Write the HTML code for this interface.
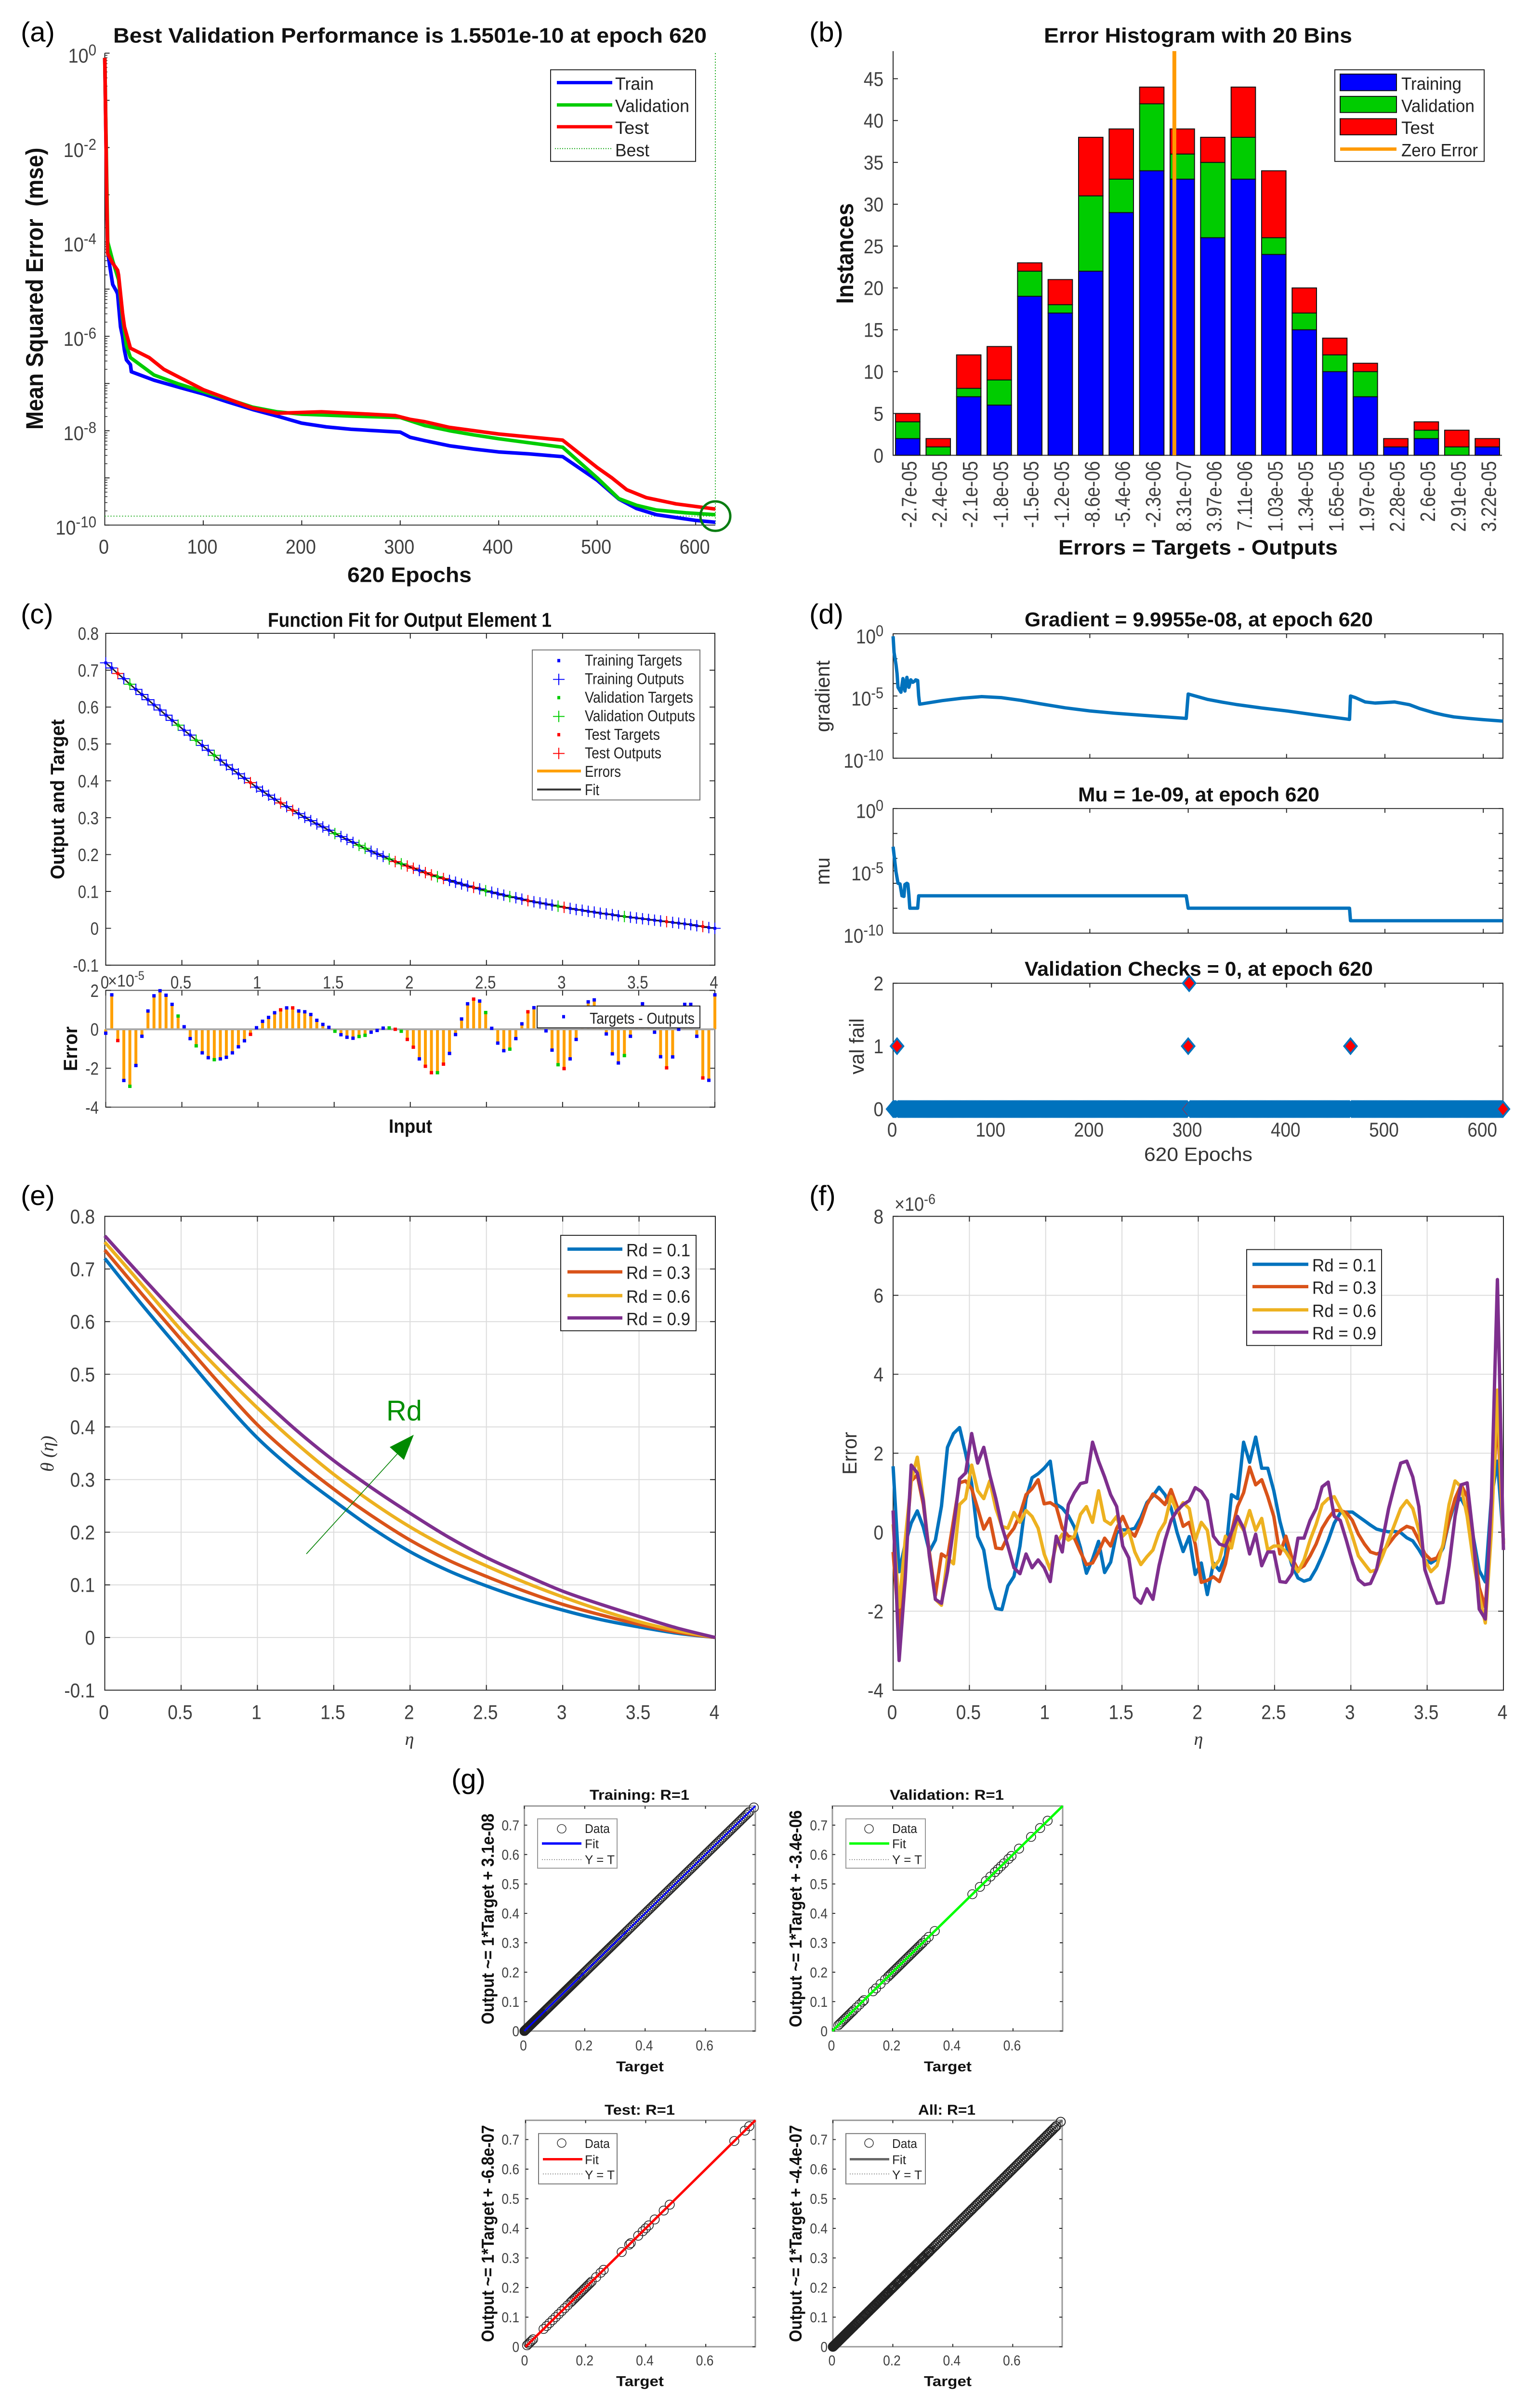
<!DOCTYPE html>
<html lang="en">
<head>
<meta charset="utf-8">
<title>Neural network training figures (a)-(g)</title>
<style>
html,body{margin:0;padding:0;background:#fff;width:3172px;height:5072px;overflow:hidden;}
svg{display:block;position:absolute;left:0;top:0;overflow:hidden;}
text{font-family:"Liberation Sans",sans-serif;}
.b{font-weight:bold;fill:#111;}
.lg{fill:#222;}
.ser{font-family:"Liberation Serif",serif;font-style:italic;fill:#333;}
</style>
</head>
<body>
<svg id="chart" xmlns="http://www.w3.org/2000/svg" width="3172" height="5072" viewBox="0 0 3172 5072">
<rect x="0" y="0" width="3172" height="5072" fill="#fff"/>
<g id="marks"></g>
<g id="static">
  <text x="43" y="87" font-size="58" fill="#000">(a)</text>
  <text x="1680" y="87" font-size="58" fill="#000">(b)</text>
  <text x="43" y="1313" font-size="58" fill="#000">(c)</text>
  <text x="1680" y="1313" font-size="58" fill="#000">(d)</text>
  <text x="43" y="2538" font-size="58" fill="#000">(e)</text>
  <text x="1680" y="2538" font-size="58" fill="#000">(f)</text>
  <text x="937" y="3767" font-size="58" fill="#000">(g)</text>

  <!-- (a) -->
  <text class="b" x="235" y="90" font-size="44" textLength="1232" lengthAdjust="spacingAndGlyphs">Best Validation Performance is 1.5501e-10 at epoch 620</text>
  <text class="b" transform="translate(89 905) rotate(-90)" font-size="50" textLength="594" lengthAdjust="spacingAndGlyphs" xml:space="preserve">Mean Squared Error  (mse)</text>
  <text class="b" x="721" y="1226" font-size="44" textLength="258" lengthAdjust="spacingAndGlyphs">620 Epochs</text>
  <g>
    <rect x="1143" y="147" width="301" height="193" fill="#fff" stroke="#262626" stroke-width="2"/>
    <line x1="1156" x2="1271" y1="174" y2="174" stroke="#0000ff" stroke-width="7"/>
    <line x1="1156" x2="1271" y1="221" y2="221" stroke="#00cc00" stroke-width="7"/>
    <line x1="1156" x2="1271" y1="267" y2="267" stroke="#ff0000" stroke-width="7"/>
    <line x1="1152" x2="1271" y1="313" y2="313" stroke="#00a000" stroke-width="2" stroke-dasharray="2 3"/>
    <text class="lg" x="1277" y="189" font-size="38" textLength="80" lengthAdjust="spacingAndGlyphs">Train</text>
    <text class="lg" x="1277" y="236" font-size="38" textLength="154" lengthAdjust="spacingAndGlyphs">Validation</text>
    <text class="lg" x="1277" y="282" font-size="38" textLength="70" lengthAdjust="spacingAndGlyphs">Test</text>
    <text class="lg" x="1277" y="329" font-size="38" textLength="71" lengthAdjust="spacingAndGlyphs">Best</text>
  </g>

  <!-- (b) -->
  <text class="b" x="2167" y="90" font-size="44" textLength="640" lengthAdjust="spacingAndGlyphs">Error Histogram with 20 Bins</text>
  <text class="b" transform="translate(1771 640) rotate(-90)" font-size="50" textLength="212" lengthAdjust="spacingAndGlyphs">Instances</text>
  <text class="b" x="2197" y="1168" font-size="44" textLength="580" lengthAdjust="spacingAndGlyphs">Errors = Targets - Outputs</text>
  <g>
    <rect x="2771" y="147" width="310" height="193" fill="#fff" stroke="#262626" stroke-width="2"/>
    <rect x="2782" y="156" width="117" height="35" fill="#0000ff" stroke="#111" stroke-width="2"/>
    <rect x="2782" y="203" width="117" height="34" fill="#00cc00" stroke="#111" stroke-width="2"/>
    <rect x="2782" y="250" width="117" height="34" fill="#ff0000" stroke="#111" stroke-width="2"/>
    <line x1="2782" x2="2899" y1="314" y2="314" stroke="#ff9a00" stroke-width="7"/>
    <text class="lg" x="2909" y="189" font-size="38" textLength="125" lengthAdjust="spacingAndGlyphs">Training</text>
    <text class="lg" x="2909" y="236" font-size="38" textLength="152" lengthAdjust="spacingAndGlyphs">Validation</text>
    <text class="lg" x="2909" y="282" font-size="38" textLength="68" lengthAdjust="spacingAndGlyphs">Test</text>
    <text class="lg" x="2909" y="329" font-size="38" textLength="159" lengthAdjust="spacingAndGlyphs">Zero Error</text>
  </g>

  <!-- (c) -->
  <text class="b" x="556" y="1320" font-size="42" textLength="589" lengthAdjust="spacingAndGlyphs">Function Fit for Output Element 1</text>
  <text class="b" transform="translate(133 1852) rotate(-90)" font-size="40" textLength="337" lengthAdjust="spacingAndGlyphs">Output and Target</text>
  <text class="b" transform="translate(160 2256) rotate(-90)" font-size="40" textLength="94" lengthAdjust="spacingAndGlyphs">Error</text>
  <text class="b" x="807" y="2386" font-size="40" textLength="90" lengthAdjust="spacingAndGlyphs">Input</text>
  <text x="224" y="2078" font-size="36" fill="#404040" transform="translate(224 0) scale(.9 1) translate(-224 0)">×10<tspan dy="-14" font-size="26">-5</tspan></text>
  <g>
    <rect x="1105" y="1369" width="348" height="316" fill="#fff" stroke="#777" stroke-width="2"/>
    <rect x="1157" y="1388" width="6" height="7" fill="#0000ff"/>
    <path d="M1148 1431H1172M1160 1419V1443" stroke="#0000ff" stroke-width="2" fill="none"/>
    <rect x="1157" y="1466" width="6" height="7" fill="#00cc00"/>
    <path d="M1148 1509H1172M1160 1497V1521" stroke="#00cc00" stroke-width="2" fill="none"/>
    <rect x="1157" y="1544" width="6" height="7" fill="#ff0000"/>
    <path d="M1148 1587H1172M1160 1575V1599" stroke="#ff0000" stroke-width="2" fill="none"/>
    <line x1="1115" x2="1206" y1="1624" y2="1624" stroke="#ffa000" stroke-width="6"/>
    <line x1="1115" x2="1206" y1="1663" y2="1663" stroke="#333" stroke-width="4"/>
    <text class="lg" x="1214" y="1402" font-size="33" textLength="202" lengthAdjust="spacingAndGlyphs">Training Targets</text>
    <text class="lg" x="1214" y="1441" font-size="33" textLength="206" lengthAdjust="spacingAndGlyphs">Training Outputs</text>
    <text class="lg" x="1214" y="1480" font-size="33" textLength="225" lengthAdjust="spacingAndGlyphs">Validation Targets</text>
    <text class="lg" x="1214" y="1519" font-size="33" textLength="229" lengthAdjust="spacingAndGlyphs">Validation Outputs</text>
    <text class="lg" x="1214" y="1558" font-size="33" textLength="156" lengthAdjust="spacingAndGlyphs">Test Targets</text>
    <text class="lg" x="1214" y="1597" font-size="33" textLength="159" lengthAdjust="spacingAndGlyphs">Test Outputs</text>
    <text class="lg" x="1214" y="1636" font-size="33" textLength="75" lengthAdjust="spacingAndGlyphs">Errors</text>
    <text class="lg" x="1214" y="1675" font-size="33" textLength="30" lengthAdjust="spacingAndGlyphs">Fit</text>
  </g>
  <g>
    <rect x="1115" y="2119" width="338" height="46" fill="#fff" stroke="#222" stroke-width="2"/>
    <rect x="1167" y="2138" width="6" height="7" fill="#0000ff"/>
    <text class="lg" x="1224" y="2156" font-size="33" textLength="218" lengthAdjust="spacingAndGlyphs">Targets - Outputs</text>
  </g>

  <!-- (d) -->
  <text class="b" x="2127" y="1319" font-size="42" textLength="723" lengthAdjust="spacingAndGlyphs">Gradient = 9.9955e-08, at epoch 620</text>
  <text class="b" x="2238" y="1688" font-size="42" textLength="501" lengthAdjust="spacingAndGlyphs">Mu = 1e-09, at epoch 620</text>
  <text class="b" x="2127" y="2055" font-size="42" textLength="723" lengthAdjust="spacingAndGlyphs">Validation Checks = 0, at epoch 620</text>
  <text transform="translate(1722 1542) rotate(-90)" font-size="42" fill="#333" textLength="151" lengthAdjust="spacingAndGlyphs">gradient</text>
  <text transform="translate(1722 1864) rotate(-90)" font-size="42" fill="#333" textLength="58" lengthAdjust="spacingAndGlyphs">mu</text>
  <text transform="translate(1793 2263) rotate(-90)" font-size="42" fill="#333" textLength="118" lengthAdjust="spacingAndGlyphs">val fail</text>
  <text x="2375" y="2445" font-size="40" fill="#333" textLength="225" lengthAdjust="spacingAndGlyphs">620 Epochs</text>

  <!-- (e) -->
  <text class="ser" x="850" y="3675" font-size="38" text-anchor="middle">η</text>
  <text class="ser" transform="translate(111 3100) rotate(-90)" font-size="38" textLength="76" lengthAdjust="spacingAndGlyphs" xml:space="preserve">θ (η)</text>
  <text x="802" y="2992" font-size="60" fill="#008f00" textLength="74" lengthAdjust="spacingAndGlyphs">Rd</text>
  <line x1="636" y1="3273" x2="825" y2="3062" stroke="#008000" stroke-width="1.6"/>
  <polygon points="859,3022 809,3048 838.5,3075" fill="#008a00"/>
  <g>
    <rect x="1164" y="2602" width="281" height="201" fill="#fff" stroke="#262626" stroke-width="2"/>
    <line x1="1178" x2="1292" y1="2631" y2="2631" stroke="#0072bd" stroke-width="7"/>
    <line x1="1178" x2="1292" y1="2679" y2="2679" stroke="#d95319" stroke-width="7"/>
    <line x1="1178" x2="1292" y1="2729" y2="2729" stroke="#edb120" stroke-width="7"/>
    <line x1="1178" x2="1292" y1="2776" y2="2776" stroke="#7e2f8e" stroke-width="7"/>
    <text class="lg" x="1300" y="2646" font-size="38" textLength="133" lengthAdjust="spacingAndGlyphs">Rd = 0.1</text>
    <text class="lg" x="1300" y="2694" font-size="38" textLength="133" lengthAdjust="spacingAndGlyphs">Rd = 0.3</text>
    <text class="lg" x="1300" y="2744" font-size="38" textLength="133" lengthAdjust="spacingAndGlyphs">Rd = 0.6</text>
    <text class="lg" x="1300" y="2791" font-size="38" textLength="133" lengthAdjust="spacingAndGlyphs">Rd = 0.9</text>
  </g>

  <!-- (f) -->
  <text class="ser" x="2488" y="3675" font-size="38" text-anchor="middle">η</text>
  <text transform="translate(1778 3106) rotate(-90)" font-size="42" fill="#333" textLength="90" lengthAdjust="spacingAndGlyphs">Error</text>
  <text x="1857" y="2550" font-size="40" fill="#404040" transform="translate(1857 0) scale(.9 1) translate(-1857 0)">×10<tspan dy="-14" font-size="30">-6</tspan></text>
  <g>
    <rect x="2588" y="2632" width="280" height="202" fill="#fff" stroke="#262626" stroke-width="2"/>
    <line x1="2600" x2="2716" y1="2663" y2="2663" stroke="#0072bd" stroke-width="7"/>
    <line x1="2600" x2="2716" y1="2710" y2="2710" stroke="#d95319" stroke-width="7"/>
    <line x1="2600" x2="2716" y1="2759" y2="2759" stroke="#edb120" stroke-width="7"/>
    <line x1="2600" x2="2716" y1="2806" y2="2806" stroke="#7e2f8e" stroke-width="7"/>
    <text class="lg" x="2724" y="2678" font-size="38" textLength="133" lengthAdjust="spacingAndGlyphs">Rd = 0.1</text>
    <text class="lg" x="2724" y="2725" font-size="38" textLength="133" lengthAdjust="spacingAndGlyphs">Rd = 0.3</text>
    <text class="lg" x="2724" y="2774" font-size="38" textLength="133" lengthAdjust="spacingAndGlyphs">Rd = 0.6</text>
    <text class="lg" x="2724" y="2821" font-size="38" textLength="133" lengthAdjust="spacingAndGlyphs">Rd = 0.9</text>
  </g>

  <!-- (g) -->
  <text class="b" x="1224" y="3791" font-size="30" textLength="207" lengthAdjust="spacingAndGlyphs">Training: R=1</text>
  <text class="b" x="1847" y="3791" font-size="30" textLength="237" lengthAdjust="spacingAndGlyphs">Validation: R=1</text>
  <text class="b" x="1255" y="4454" font-size="30" textLength="146" lengthAdjust="spacingAndGlyphs">Test: R=1</text>
  <text class="b" x="1906" y="4454" font-size="30" textLength="119" lengthAdjust="spacingAndGlyphs">All: R=1</text>
  <text class="b" transform="translate(1025 4264) rotate(-90)" font-size="36" textLength="444" lengthAdjust="spacingAndGlyphs">Output ~= 1*Target + 3.1e-08</text>
  <text class="b" transform="translate(1664 4270) rotate(-90)" font-size="36" textLength="457" lengthAdjust="spacingAndGlyphs">Output ~= 1*Target + -3.4e-06</text>
  <text class="b" transform="translate(1025 4933) rotate(-90)" font-size="36" textLength="457" lengthAdjust="spacingAndGlyphs">Output ~= 1*Target + -6.8e-07</text>
  <text class="b" transform="translate(1664 4933) rotate(-90)" font-size="36" textLength="457" lengthAdjust="spacingAndGlyphs">Output ~= 1*Target + -4.4e-07</text>
  <text class="b" x="1279" y="4363" font-size="30" textLength="99" lengthAdjust="spacingAndGlyphs">Target</text>
  <text class="b" x="1918" y="4363" font-size="30" textLength="99" lengthAdjust="spacingAndGlyphs">Target</text>
  <text class="b" x="1279" y="5026" font-size="30" textLength="99" lengthAdjust="spacingAndGlyphs">Target</text>
  <text class="b" x="1918" y="5026" font-size="30" textLength="99" lengthAdjust="spacingAndGlyphs">Target</text>

  <g>
    <rect x="1116" y="3831" width="165" height="104" fill="#fff" stroke="#999" stroke-width="2"/>
    <circle cx="1166" cy="3852" r="9" fill="none" stroke="#333" stroke-width="1.5"/>
    <line x1="1125" x2="1207" y1="3883" y2="3883" stroke="#0000ff" stroke-width="5"/>
    <line x1="1125" x2="1207" y1="3917" y2="3917" stroke="#777" stroke-width="1.5" stroke-dasharray="2 3"/>
    <text class="lg" x="1214" y="3861" font-size="26" textLength="52" lengthAdjust="spacingAndGlyphs">Data</text>
    <text class="lg" x="1214" y="3893" font-size="26" textLength="29" lengthAdjust="spacingAndGlyphs">Fit</text>
    <text class="lg" x="1214" y="3926" font-size="26" textLength="62" lengthAdjust="spacingAndGlyphs">Y = T</text>
  </g>
  <g>
    <rect x="1756" y="3831" width="165" height="104" fill="#fff" stroke="#999" stroke-width="2"/>
    <circle cx="1804" cy="3852" r="9" fill="none" stroke="#333" stroke-width="1.5"/>
    <line x1="1763" x2="1846" y1="3883" y2="3883" stroke="#00ff00" stroke-width="5"/>
    <line x1="1763" x2="1846" y1="3917" y2="3917" stroke="#777" stroke-width="1.5" stroke-dasharray="2 3"/>
    <text class="lg" x="1852" y="3861" font-size="26" textLength="52" lengthAdjust="spacingAndGlyphs">Data</text>
    <text class="lg" x="1852" y="3893" font-size="26" textLength="29" lengthAdjust="spacingAndGlyphs">Fit</text>
    <text class="lg" x="1852" y="3926" font-size="26" textLength="62" lengthAdjust="spacingAndGlyphs">Y = T</text>
  </g>
  <g>
    <rect x="1118" y="4494" width="163" height="106" fill="#fff" stroke="#777" stroke-width="2"/>
    <circle cx="1166" cy="4514" r="9" fill="none" stroke="#333" stroke-width="1.5"/>
    <line x1="1127" x2="1209" y1="4548" y2="4548" stroke="#ff0000" stroke-width="5"/>
    <line x1="1127" x2="1209" y1="4579" y2="4579" stroke="#777" stroke-width="1.5" stroke-dasharray="2 3"/>
    <text class="lg" x="1214" y="4524" font-size="26" textLength="52" lengthAdjust="spacingAndGlyphs">Data</text>
    <text class="lg" x="1214" y="4558" font-size="26" textLength="29" lengthAdjust="spacingAndGlyphs">Fit</text>
    <text class="lg" x="1214" y="4590" font-size="26" textLength="62" lengthAdjust="spacingAndGlyphs">Y = T</text>
  </g>
  <g>
    <rect x="1756" y="4494" width="165" height="106" fill="#fff" stroke="#777" stroke-width="2"/>
    <circle cx="1804" cy="4514" r="9" fill="none" stroke="#333" stroke-width="1.5"/>
    <line x1="1764" x2="1846" y1="4548" y2="4548" stroke="#666" stroke-width="5"/>
    <line x1="1764" x2="1846" y1="4579" y2="4579" stroke="#777" stroke-width="1.5" stroke-dasharray="2 3"/>
    <text class="lg" x="1852" y="4524" font-size="26" textLength="52" lengthAdjust="spacingAndGlyphs">Data</text>
    <text class="lg" x="1852" y="4558" font-size="26" textLength="29" lengthAdjust="spacingAndGlyphs">Fit</text>
    <text class="lg" x="1852" y="4590" font-size="26" textLength="62" lengthAdjust="spacingAndGlyphs">Y = T</text>
  </g>
</g>
</svg>
<script>
/* ---------- (a) performance: log10(mse) per epoch ---------- */
const perfTrainEpochs=[0,2,3,5,8,12,13,16,18,20,22,26,27,50,77,100,125,150,175,200,225,250,275,300,310,325,350,375,400,430,465,500,522,540,560,600,620];
const perfTrainLog=[-0.1,-3,-4.2,-4.5,-4.9,-5.05,-5.1,-5.8,-6,-6.3,-6.5,-6.6,-6.75,-6.93,-7.09,-7.22,-7.39,-7.55,-7.69,-7.84,-7.92,-7.97,-8,-8.03,-8.14,-8.21,-8.32,-8.39,-8.45,-8.49,-8.55,-9.05,-9.45,-9.65,-9.78,-9.9,-9.94];
const perfValEpochs=[0,3,8,14,18,22,26,50,75,100,125,150,175,200,250,300,325,350,375,400,465,500,522,540,560,590,620];
const perfValLog=[-0.1,-4,-4.4,-4.8,-5.6,-6.2,-6.45,-6.82,-7.01,-7.17,-7.33,-7.5,-7.6,-7.65,-7.69,-7.72,-7.89,-8,-8.09,-8.17,-8.35,-9,-9.44,-9.58,-9.68,-9.74,-9.78];
const perfTestEpochs=[0,2,3,8,13,14,18,20,26,45,60,100,150,175,220,260,295,310,325,350,400,430,465,480,500,515,530,550,580,620];
const perfTestLog=[-0.1,-3,-4.25,-4.45,-4.6,-4.7,-5.5,-5.8,-6.25,-6.45,-6.7,-7.13,-7.52,-7.63,-7.6,-7.64,-7.68,-7.76,-7.81,-7.93,-8.07,-8.13,-8.2,-8.45,-8.78,-9,-9.25,-9.42,-9.55,-9.66];
const bestEpoch=620;
const bestLog=-9.81;
const perfXTicks=[0,100,200,300,400,500,600];
const perfYExps=[0,-2,-4,-6,-8,-10];

/* ---------- (b) histogram ---------- */
const histLabels=['-2.7e-05','-2.4e-05','-2.1e-05','-1.8e-05','-1.5e-05','-1.2e-05','-8.6e-06','-5.4e-06','-2.3e-06','8.31e-07','3.97e-06','7.11e-06','1.03e-05','1.34e-05','1.65e-05','1.97e-05','2.28e-05','2.6e-05','2.91e-05','3.22e-05'];
const histTraining=[2,0,7,6,19,17,22,29,34,33,26,33,24,15,10,7,1,2,0,1];
const histValidation=[2,1,1,3,3,1,9,4,8,3,9,5,2,2,2,3,0,1,1,0];
const histTest=[1,1,4,4,1,3,7,6,2,3,3,6,8,3,2,1,1,1,2,1];
const histYTicks=[0,5,10,15,20,25,30,35,40,45];
const histZeroBin=8.74;

/* ---------- (c) function fit ---------- */
const fitTargets=[.720,.706,.691,.677,.662,.648,.634,.620,.606,.592,.578,.564,.551,.537,.524,.510,.496,.483,.469,.456,.443,.431,.419,.407,.395,.383,.372,.361,.350,.340,.330,.320,.311,.301,.292,.283,.275,.266,.257,.249,.241,.233,.225,.217,.209,.202,.195,.188,.181,.175,.169,.163,.157,.151,.145,.140,.135,.130,.125,.120,.115,.111,.107,.102,.098,.094,.090,.086,.083,.079,.075,.072,.069,.066,.063,.060,.057,.054,.051,.049,.046,.044,.041,.039,.037,.034,.032,.030,.028,.026,.024,.022,.020,.018,.016,.014,.012,.010,.007,.005,.002,.000];
const fitErrors=[-.2,1.77,-.58,-2.63,-2.93,-1.86,-.36,.94,1.72,1.98,1.75,1.28,.68,.13,-.48,-.85,-1.21,-1.46,-1.56,-1.52,-1.44,-1.21,-.9,-.59,-.26,.08,.41,.61,.85,1,1.1,1.1,.94,.9,.76,.46,.25,.1,-.1,-.28,-.41,-.46,-.37,-.31,-.15,-.06,.06,.07,0,-.1,-.52,-.92,-1.52,-1.9,-2.23,-2.23,-1.79,-1.24,-.27,.53,1.31,1.55,1.45,.86,.05,-.71,-1.1,-1.02,-.48,.28,.9,1.11,.2,-.08,-1.07,-1.82,-2.02,-1.52,-.52,.4,1.41,1.51,.6,-.24,-1.26,-1.73,-1.35,-.36,.5,1.31,.3,-.15,-1.41,-1.98,-1.42,0,1.28,1.28,-.36,-2.5,-2.62,1.77];
const fitClasses='bbrbgbbbbbbbgbbgbbgbbbbbrbbbbrbrbbbbbbgbbbggbbbgrgrrbrrgrbbbbrbgbbbgbbrbbbbgrbbbbbbbbbgbbbbbbrbbbbbrbb';
const fitXTicks=[0,.5,1,1.5,2,2.5,3,3.5,4];
const fitXLabels=['0','0.5','1','1.5','2','2.5','3','3.5','4'];
const fitYTicks=[-.1,0,.1,.2,.3,.4,.5,.6,.7,.8];
const fitYLabels=['-0.1','0','0.1','0.2','0.3','0.4','0.5','0.6','0.7','0.8'];
const errYTicks=[-4,-2,0,2];
const errYLabels=['-4','-2','0','2'];

/* ---------- (d) training state ---------- */
const gradEpochs=[0,1,3,4,5,8,10,12,14,16,18,20,22,23,25,26,27,50,70,90,110,130,150,175,200,225,250,275,298,300,320,335,350,375,400,430,464,465,470,480,490,510,525,535,550,560,570,585,600,620];
const gradLog=[-.2,-1.5,-2.5,-3.2,-4.3,-4.7,-3.6,-4.6,-3.5,-4.3,-3.7,-3.9,-3.8,-3.7,-3.75,-5,-5.66,-5.37,-5.18,-5.05,-5.13,-5.35,-5.63,-5.95,-6.2,-6.38,-6.53,-6.67,-6.8,-4.84,-5.28,-5.5,-5.7,-5.97,-6.2,-6.53,-6.88,-5,-5.13,-5.48,-5.57,-5.48,-5.7,-6,-6.35,-6.53,-6.68,-6.8,-6.9,-7.02];
const muEpochs=[0,3,5,7,9,11,12,14,15,16,17,25,26,298,300,464,465,620];
const muLog=[-3.06,-5.1,-6,-6.05,-7,-7.05,-6.1,-6,-6.05,-6.9,-8,-8,-7,-7,-8,-8,-9,-9];
const failEpochs=[4,300,301,465];
const failCounts=[1,1,2,1];
const lastEpoch=620;
const trainXTicks=[0,100,200,300,400,500,600];
const logYExps=[0,-5,-10];
const logYMinor=[-2,-4,-6,-8];
const failYTicks=[0,1,2];

/* ---------- (e) temperature profiles, sampled at eta step 0.25 ---------- */
const thetaRd01=[.72,.63,.544,.458,.379,.315,.26,.208,.163,.127,.098,.073,.052,.034,.02,.008,0];
const thetaRd03=[.736,.65,.566,.483,.404,.339,.282,.231,.185,.147,.116,.088,.063,.043,.025,.01,0];
const thetaRd06=[.751,.668,.584,.508,.436,.37,.31,.257,.21,.17,.136,.105,.077,.052,.03,.013,0];
const thetaRd09=[.763,.683,.605,.531,.461,.395,.336,.284,.236,.191,.152,.119,.088,.063,.04,.018,0];
const etaTicks=[0,.5,1,1.5,2,2.5,3,3.5,4];
const etaLabels=['0','0.5','1','1.5','2','2.5','3','3.5','4'];
const thetaYTicks=[-.1,0,.1,.2,.3,.4,.5,.6,.7,.8];
const thetaYLabels=['-0.1','0','0.1','0.2','0.3','0.4','0.5','0.6','0.7','0.8'];

/* ---------- (f) errors (units of 1e-6), 102 samples over eta 0..4 ---------- */
const errRd01=[1.67,-1,-.3,.23,.54,.13,-.49,-.2,.66,2.15,2.5,2.65,2,1.23,-.11,-.45,-1.4,-1.93,-1.96,-1.36,-1.12,-.35,.85,1.38,1.48,1.62,1.8,.71,.61,.42,.13,-.39,-1.04,-.68,-.23,-1.02,-.76,-.01,.06,.06,.1,.37,.75,.92,1.14,.95,.61,-.01,-.49,-.11,-1.07,-.78,-1.58,-.78,-.97,-.59,.95,.85,2.28,1.77,2.41,1.62,1.62,1.05,.28,-.3,-.83,-1.16,-1.24,-1.19,-.93,-.59,-.21,.23,.49,.51,.51,.4,.29,.18,.08,.04,.01,.02,-.01,-.14,-.22,-.44,-.7,-.78,-.68,-.4,.27,.75,.85,.56,-.11,-.97,-1.26,.85,1.8,-.2];
const errRd03=[-.5,-2.5,-.5,1.3,1.45,.7,-.5,-1.6,-.55,-.65,.3,1.25,1.3,1.1,.6,.08,.35,-.4,-.42,-.1,.1,.45,.95,1.1,1.33,.72,.75,.65,.1,-.1,-.15,-.5,-.82,-.78,-.5,-.15,-.35,.1,.4,.05,-.1,.25,.7,.97,.85,.7,1.08,.65,.15,.25,-.3,-1.27,-1.22,-1.13,-1.25,-.8,0,.65,1,1.65,1.2,1.33,.9,.4,-.55,-.1,-.65,-.95,-.85,-.6,-.3,.1,.35,.55,.55,.5,.3,-.05,-.3,-.5,-.55,-.5,-.3,-.1,.05,.15,.1,-.2,-.55,-.7,-.65,-.35,.3,.85,1.2,.9,-.2,-1.4,-1.9,.3,3,-.3];
const errRd06=[.2,-1.9,-.2,1.3,1.9,.85,-.6,-1.7,-1.85,-.65,-.8,.7,.85,1.7,1.05,.85,1.3,.6,.15,.1,.5,.25,.55,.4,.1,-.55,-.95,-.3,-.05,-.2,-.1,.45,.65,.25,1.05,.3,.2,.4,-.1,.05,-.5,-.82,-.62,-.45,0,.25,.9,.5,.75,.6,-.2,.25,.05,-.9,-.7,-.1,-.4,.3,.05,.55,.05,.35,-.45,-.35,-.35,-.5,-.75,-1,-.7,-.2,.2,.7,.85,.9,.6,.35,-.1,-.6,-.8,-1,-.95,-.6,-.2,.2,.6,.8,.6,.05,-.7,-1,-.85,-.3,.7,1.3,1.15,.4,-.7,-1.6,-2.3,0,3.6,-.3];
const errRd09=[.55,-3.25,-1.2,1.7,1.5,.8,-.6,-1.7,-1.8,-1,.1,1.35,1.5,2.5,1.75,2.15,1.45,.85,.15,-.35,-.9,-1.05,-.55,-.9,-.7,-.9,-1.25,-.1,-.5,.7,1,1.23,1.27,2.28,1.8,1.4,.95,.65,-.35,-.65,-1.65,-1.8,-1.43,-1.7,-.85,-.2,.3,.55,.7,.8,1.13,1.03,.8,-.1,-.3,-.35,0,.4,.1,-.55,-.05,-.85,-.5,-.5,-1.25,-1.27,-1.05,-.15,-.15,.3,.6,1.15,1.27,.4,.3,-.2,-.75,-1.2,-1.33,-1.3,-.95,-.2,.6,1.2,1.75,1.8,1.4,.65,-.95,-1.4,-1.8,-1.78,-.85,.4,1.2,1.25,-.1,-1.95,-2.2,.8,6.4,-.45];
const errFYTicks=[-4,-2,0,2,4,6,8];
const errFYLabels=['-4','-2','0','2','4','6','8'];

/* ---------- (g) regression targets ---------- */
const regTrain=[0,.001,.002,.003,.004,.005,.006,.007,.008,.009,.01,.012,.014,.016,.018,.02,.022,.024,.026,.028,.03,.032,.034,.036,.038,.04,.042,.044,.046,.048,.05,.052,.054,.056,.058,.06,.063,.066,.069,.072,.075,.078,.081,.084,.087,.09,.093,.096,.099,.102,.105,.108,.111,.114,.117,.12,.123,.126,.129,.132,.135,.138,.141,.144,.147,.15,.153,.156,.159,.162,.165,.168,.171,.174,.177,.18,.183,.186,.19,.194,.198,.202,.206,.21,.214,.218,.222,.226,.23,.234,.238,.242,.246,.25,.254,.258,.262,.266,.27,.274,.278,.282,.286,.29,.294,.298,.302,.306,.31,.314,.318,.322,.326,.33,.335,.34,.345,.35,.355,.36,.365,.37,.375,.38,.385,.39,.395,.4,.405,.41,.415,.42,.425,.43,.435,.44,.445,.45,.455,.46,.465,.47,.475,.48,.485,.49,.495,.5,.505,.51,.515,.52,.525,.53,.535,.54,.545,.55,.555,.56,.565,.57,.575,.58,.585,.59,.595,.6,.605,.61,.615,.62,.625,.63,.635,.64,.645,.65,.655,.66,.665,.67,.675,.68,.685,.69,.695,.7,.705,.71,.715,.72,.725,.73,.735,.74,.745,.76];
const regVal=[.02,.025,.03,.035,.04,.045,.05,.055,.06,.065,.07,.08,.09,.1,.105,.135,.145,.16,.175,.185,.19,.195,.2,.205,.21,.215,.22,.225,.23,.235,.24,.245,.25,.255,.26,.265,.27,.275,.28,.285,.29,.295,.3,.31,.32,.34,.465,.49,.51,.525,.54,.55,.56,.57,.585,.595,.62,.66,.69,.715];
const regTest=[.005,.01,.015,.02,.025,.06,.07,.08,.09,.1,.11,.12,.13,.14,.15,.155,.16,.165,.17,.175,.18,.185,.19,.195,.2,.205,.21,.215,.22,.235,.25,.26,.32,.345,.35,.375,.39,.4,.41,.43,.46,.48,.695,.73,.745];
const regXTicks=[0,.2,.4,.6];
const regXLabels=['0','0.2','0.4','0.6'];
const regYTicks=[0,.1,.2,.3,.4,.5,.6,.7];
const regYLabels=['0','0.1','0.2','0.3','0.4','0.5','0.6','0.7'];

/* ---------- fit the page to the viewport if it is slightly shorter than the frame ---------- */
const chartRoot=document.getElementById('chart');
const viewH=window.innerHeight;
if(viewH>=4800&&viewH<5072){
  chartRoot.setAttribute('height',viewH);
  chartRoot.setAttribute('preserveAspectRatio','none');
  document.documentElement.style.height=viewH+'px';
  document.body.style.height=viewH+'px';
}

/* ---------- drawing ---------- */
const NS='http://www.w3.org/2000/svg';
const marks=document.getElementById('marks');
function mk(tag,attrs,parent){
  const e=document.createElementNS(NS,tag);
  for(const k in attrs)e.setAttribute(k,attrs[k]);
  (parent||marks).appendChild(e);
  return e;
}
function scale(d0,d1,r0,r1){return v=>r0+(v-d0)/(d1-d0)*(r1-r0);}
function tickText(x,y,str,size,anchor,sx){
  const e=mk('text',{transform:'translate('+x+' '+y+') scale('+sx+' 1)','font-size':size,'text-anchor':anchor,fill:'#404040'});
  e.textContent=str;
  return e;
}
function powText(x,y,exp,size,sx){
  const e=mk('text',{transform:'translate('+x+' '+y+') scale('+sx+' 1)','font-size':size,'text-anchor':'end',fill:'#404040'});
  e.textContent='10';
  const s=mk('tspan',{dy:-size*.36,'font-size':size*.78},e);
  s.textContent=String(exp);
  return e;
}
function polyPath(xs,ys,sx,sy){
  let d='';
  for(let i=0;i<xs.length;i++)d+=(i?'L':'M')+sx(xs[i]).toFixed(1)+' '+sy(ys[i]).toFixed(1);
  return d;
}
function smoothPath(xs,ys,sx,sy){
  const px=xs.map(sx),py=ys.map(sy);
  let d='M'+px[0].toFixed(1)+' '+py[0].toFixed(1);
  for(let i=0;i<px.length-1;i++){
    const a=Math.max(i-1,0),b=Math.min(i+2,px.length-1);
    const c1x=px[i]+(px[i+1]-px[a])/6,c1y=py[i]+(py[i+1]-py[a])/6;
    const c2x=px[i+1]-(px[b]-px[i])/6,c2y=py[i+1]-(py[b]-py[i])/6;
    d+='C'+c1x.toFixed(1)+' '+c1y.toFixed(1)+' '+c2x.toFixed(1)+' '+c2y.toFixed(1)+' '+px[i+1].toFixed(1)+' '+py[i+1].toFixed(1);
  }
  return d;
}
function indexX(n,max){const a=[];for(let i=0;i<n;i++)a.push(i*max/(n-1));return a;}
function drawAxes(p,c){
  const tl=c.tickLen||11;
  const col=c.frame||'#262626';
  if(c.grid){
    c.xTicks.forEach(v=>{
      const g=mk('line',{x1:c.x(v),x2:c.x(v),y1:c.T,y2:c.B,stroke:'#dcdcdc','stroke-width':2});
      
      
    });
    c.yTicks.forEach(v=>{
      const g=mk('line',{x1:c.L,x2:c.R,y1:c.y(v),y2:c.y(v),stroke:'#dcdcdc','stroke-width':2});
      
      
    });
  }
  const f=mk('path',{d:c.box?('M'+c.L+' '+c.B+'H'+c.R+'V'+c.T+'H'+c.L+'Z'):('M'+c.L+' '+c.T+'V'+c.B+'H'+c.R),fill:'none',stroke:col,'stroke-width':c.frameW||2});
  
  
  (c.noXTicks?[]:c.xTicks).forEach(v=>{
    const d='M'+c.x(v)+' '+c.B+'v'+(-tl)+(c.box?'M'+c.x(v)+' '+c.T+'v'+tl:'');
    const t=mk('path',{d:d,stroke:'#262626','stroke-width':2,fill:'none'});
    
    
  });
  c.yTicks.concat(c.yMinor||[]).forEach(v=>{
    const d='M'+c.L+' '+c.y(v)+'h'+tl+(c.box?'M'+c.R+' '+c.y(v)+'h'+(-tl):'');
    const t=mk('path',{d:d,stroke:'#262626','stroke-width':2,fill:'none'});
    
    
  });
  if(c.xLabels)c.xTicks.forEach((v,i)=>{
    const t=tickText(c.x(v)-2,c.xBase,c.xLabels[i],c.size,'middle',c.sx);
    
    
  });
  if(c.yLabels)c.yTicks.forEach((v,i)=>{
    const t=tickText(c.yRight,c.y(v)+c.size*.36,c.yLabels[i],c.size,'end',c.sx);
    
    
  });
  if(c.yExps)c.yExps.forEach(v=>{
    const t=powText(c.yRight,c.y(v)+20,v,c.size,c.sx);
    
    
  });
}
function drawLine(name,xs,ys,sx,sy,color,w){
  const e=mk('path',{d:polyPath(xs,ys,sx,sy),fill:'none',stroke:color,'stroke-width':w,'stroke-linejoin':'round'});
  
  
  return e;
}
function drawSmooth(name,xs,ys,sx,sy,color,w){
  const e=mk('path',{d:smoothPath(xs,ys,sx,sy),fill:'none',stroke:color,'stroke-width':w,'stroke-linejoin':'round'});
  
  
  return e;
}

/* (a) */
(function(){
  const x=scale(0,620,217.5,1485),y=scale(0,-10,112,1106);
  const minor=[];
  for(let d=0;d>-10;d--)for(let m=2;m<10;m+=1)minor.push(d-1+Math.log10(m));
  drawAxes('a',{L:217.5,T:112,R:1485,B:1106,x:x,y:y,xTicks:perfXTicks,xLabels:perfXTicks.map(String),yTicks:perfYExps,yExps:perfYExps,yMinor:[-1,-3,-5,-7,-9],size:42,sx:.9,xBase:1166,yRight:200,tickLen:10});
  minor.forEach(v=>{
    const t=mk('line',{x1:217.5,x2:223,y1:y(v),y2:y(v),stroke:'#262626','stroke-width':1.5});
    
    
  });
  const h=mk('line',{x1:217.5,x2:x(bestEpoch),y1:y(bestLog),y2:y(bestLog),stroke:'#00a000','stroke-width':2,'stroke-dasharray':'2 4'});
  
  
  const v=mk('line',{x1:x(bestEpoch),x2:x(bestEpoch),y1:112,y2:1106,stroke:'#00a000','stroke-width':2,'stroke-dasharray':'2 4'});
  
  
  drawLine('a-train-line',perfTrainEpochs,perfTrainLog,x,y,'#0000ff',7.5);
  drawLine('a-validation-line',perfValEpochs,perfValLog,x,y,'#00cc00',7.5);
  drawLine('a-test-line',perfTestEpochs,perfTestLog,x,y,'#ff0000',7.5);
  const c=mk('circle',{cx:x(bestEpoch),cy:y(bestLog),r:31,fill:'none',stroke:'#0a7d12','stroke-width':5});
  
  
})();

/* (b) */
(function(){
  const x=scale(-.48,19.48,1854,3118),y=scale(0,48.3,959,107.6);
  const w=(x(1)-x(0))*.8;
  drawAxes('b',{L:1854,T:107.6,R:3118,B:959,x:x,y:y,xTicks:[],yTicks:histYTicks,yLabels:histYTicks.map(String),size:42,sx:.88,yRight:1834,tickLen:10,noXTicks:true});
  histLabels.forEach((lab,i)=>{
    const a=histTraining[i],b=histValidation[i],c=histTest[i];
    const r1=mk('rect',{x:x(i)-w/2,y:y(a),width:w,height:y(0)-y(a),fill:'#0000ff',stroke:'#111','stroke-width':2});
    
    
    const r2=mk('rect',{x:x(i)-w/2,y:y(a+b),width:w,height:y(a)-y(a+b),fill:'#00cc00',stroke:'#111','stroke-width':2});
    
    
    const r3=mk('rect',{x:x(i)-w/2,y:y(a+b+c),width:w,height:y(a+b)-y(a+b+c),fill:'#ff0000',stroke:'#111','stroke-width':2});
    
    
    const t=mk('text',{transform:'translate('+(x(i)+18)+' 971) rotate(-90) scale(.86 1)','font-size':44,'text-anchor':'end',fill:'#404040'});
    t.textContent=lab;
    
    
  });
  const z=mk('line',{x1:x(histZeroBin),x2:x(histZeroBin),y1:107.6,y2:959,stroke:'#ff9a00','stroke-width':8});
  
  
})();

/* (c) */
(function(){
  const cols={b:'#0000ff',g:'#00cc00',r:'#ff0000'};
  const n=fitTargets.length;
  const xs=indexX(n,4);
  const x=scale(0,4,219.5,1484),y=scale(-.1,.8,2033,1334);
  drawAxes('c-fit',{box:true,L:219.5,T:1334,R:1484,B:2033,x:x,y:y,xTicks:fitXTicks,xLabels:fitXLabels,yTicks:fitYTicks,yLabels:fitYLabels,size:38,sx:.82,xBase:2082,yRight:205});
  xs.forEach((v,i)=>{
    const col=cols[fitClasses[i]];
    const px=x(v),py=y(fitTargets[i]);
    const pl=mk('path',{d:'M'+(px-12)+' '+py+'H'+(px+12)+'M'+px+' '+(py-12)+'V'+(py+12),stroke:col,'stroke-width':2,fill:'none'});
    
    
  });
  drawLine('c-fit-line',xs,fitTargets,x,y,'#222',3);
  xs.forEach((v,i)=>{
    const d=mk('rect',{x:x(v)-3,y:y(fitTargets[i])-3,width:6,height:6,fill:cols[fitClasses[i]]});
    
    
  });
  const ye=scale(-4,2,2332,2086);
  drawAxes('c-error',{box:true,L:219.5,T:2086,R:1484,B:2332,x:x,y:ye,xTicks:fitXTicks,yTicks:errYTicks,yLabels:errYLabels,size:38,sx:.82,yRight:205,frame:'#555'});
  xs.forEach((v,i)=>{
    const s=mk('line',{x1:x(v),x2:x(v),y1:ye(0),y2:ye(fitErrors[i]),stroke:'#ffa000','stroke-width':6});
    
    
  });
  const zl=mk('line',{x1:219.5,x2:1484,y1:ye(0),y2:ye(0),stroke:'#a8a8a8','stroke-width':4});
  
  
  xs.forEach((v,i)=>{
    const d=mk('rect',{x:x(v)-3.5,y:ye(fitErrors[i])-3.5,width:7,height:7,fill:cols[fitClasses[i]]});
    
    
  });
})();

/* (d) */
(function(){
  const x=scale(0,620,1854,3120);
  const y1=scale(0,-10,1335,1597),y2=scale(0,-10,1703,1965.5),y3=scale(0,2,2336,2071);
  const emptyEpochs=[100,200,300,400,500,600];
  drawAxes('d-gradient',{box:true,L:1854,T:1335,R:3120,B:1597,x:x,y:y1,xTicks:emptyEpochs,yTicks:logYExps,yMinor:logYMinor,yExps:logYExps,size:42,sx:.88,yRight:1834,tickLen:9});
  drawAxes('d-mu',{box:true,L:1854,T:1703,R:3120,B:1965.5,x:x,y:y2,xTicks:emptyEpochs,yTicks:logYExps,yMinor:logYMinor,yExps:logYExps,size:42,sx:.88,yRight:1834,tickLen:9});
  drawAxes('d-val-fail',{box:true,L:1854,T:2071,R:3120,B:2336,x:x,y:y3,xTicks:trainXTicks,xLabels:trainXTicks.map(String),yTicks:failYTicks,yLabels:failYTicks.map(String),size:42,sx:.88,xBase:2394,yRight:1834,tickLen:9});
  drawLine('d-gradient-line',gradEpochs,gradLog,x,y1,'#0072bd',7);
  drawLine('d-mu-line',muEpochs,muLog,x,y2,'#0072bd',7);
  for(let e=0;e<=lastEpoch;e++){
    const k=failEpochs.indexOf(e);
    const v=k>=0?failCounts[k]:0;
    const px=x(e),py=y3(v);
    const m=mk('polygon',{points:(px-13)+','+py+' '+px+','+(py-16)+' '+(px+13)+','+py+' '+px+','+(py+16),fill:'#ff0000',stroke:'#0072bd','stroke-width':4});
    
    
  }
})();

/* (e) */
(function(){
  const x=scale(0,4,217.5,1485),y=scale(-.1,.8,3560,2562);
  drawAxes('e',{box:true,grid:true,L:217.5,T:2562,R:1485,B:3560,x:x,y:y,xTicks:etaTicks,xLabels:etaLabels,yTicks:thetaYTicks,yLabels:thetaYLabels,size:42,sx:.88,xBase:3621,yRight:197});
  const xs=indexX(thetaRd01.length,4);
  drawSmooth('e-line-rd-01',xs,thetaRd01,x,y,'#0072bd',7);
  drawSmooth('e-line-rd-03',xs,thetaRd03,x,y,'#d95319',7);
  drawSmooth('e-line-rd-06',xs,thetaRd06,x,y,'#edb120',7);
  drawSmooth('e-line-rd-09',xs,thetaRd09,x,y,'#7e2f8e',7);
})();

/* (f) */
(function(){
  const x=scale(0,4,1854,3121),y=scale(-4,8,3560,2562);
  drawAxes('f',{box:true,grid:true,L:1854,T:2562,R:3121,B:3560,x:x,y:y,xTicks:etaTicks,xLabels:etaLabels,yTicks:errFYTicks,yLabels:errFYLabels,size:42,sx:.88,xBase:3621,yRight:1834});
  drawLine('f-line-rd-01',indexX(errRd01.length,4),errRd01,x,y,'#0072bd',7);
  drawLine('f-line-rd-03',indexX(errRd03.length,4),errRd03,x,y,'#d95319',7);
  drawLine('f-line-rd-06',indexX(errRd06.length,4),errRd06,x,y,'#edb120',7);
  drawLine('f-line-rd-09',indexX(errRd09.length,4),errRd09,x,y,'#7e2f8e',7);
})();

/* (g) */
function drawRegression(p,L,T,R,B,targets,color,fitOnTop,xBase,yRight,sw){
  const lim=.765;
  const x=scale(0,lim,L,R),y=scale(0,lim,B,T);
  drawAxes(p,{box:true,L:L,T:T,R:R,B:B,x:x,y:y,xTicks:regXTicks,xLabels:regXLabels,yTicks:regYTicks,yLabels:regYLabels,size:30,sx:.88,xBase:xBase,yRight:yRight,frame:'#9a9a9a',frameW:3,tickLen:6});
  const ends=[0,lim];
  if(!fitOnTop)drawLine(p+'-fit-line',ends,ends,x,y,color,5);
  targets.forEach(v=>{
    const c=mk('circle',{cx:x(v),cy:y(v),r:9.5,fill:'none',stroke:'#222','stroke-width':sw});
    
    
  });
  if(fitOnTop)drawLine(p+'-fit-line',ends,ends,x,y,color,p==='g-training'?3.5:5);
}
drawRegression('g-training',1088.5,3804,1568,4278,regTrain,'#0000ff',true,4319,1078,1.6);
drawRegression('g-validation',1728,3804,2206,4278,regVal,'#00ff00',true,4319,1718,1.6);
drawRegression('g-test',1091,4466,1568,4943,regTest,'#ff0000',true,4982,1078,1.6);
drawRegression('g-all',1729,4466,2205,4943,regTrain.concat(regVal,regTest),'#666666',false,4982,1718,2);
</script>
</body>
</html>
